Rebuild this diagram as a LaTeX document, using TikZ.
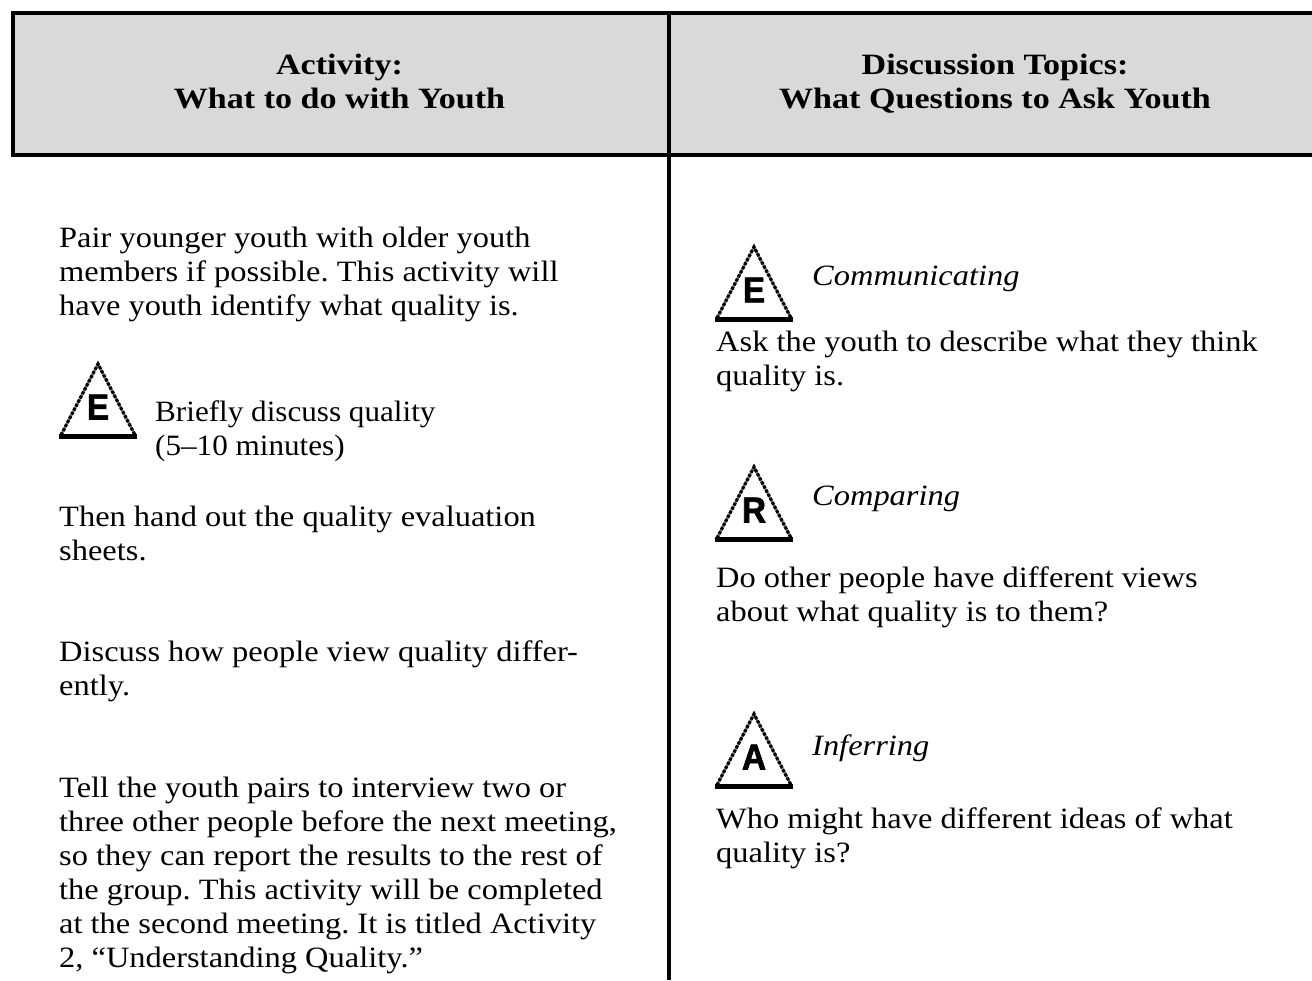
\documentclass[tikz,border=0pt]{standalone}
\usepackage{fontspec}
\setmainfont[FakeStretch=1.1,BoldFeatures={FakeStretch=1.155}]{Liberation Serif}
\newfontfamily\letterfont[FakeBold=2,FakeStretch=0.92]{Liberation Sans Bold}
\newcommand{\body}{\frenchspacing\fontsize{29.5}{34}\selectfont}
\newcommand{\triangleicon}[4]{% name, x centre, base y, letter
  \draw[line width=2.2pt,black!55] (#2-37,#3-1) -- (#2,#3-72) -- (#2+37,#3-1);
  \draw[line width=3.2pt,dash pattern=on 3pt off 1.6pt] (#2-37,#3-1) -- (#2,#3-72) -- (#2+37,#3-1);
  \draw[line width=5pt] (#2-39,#3) -- (#2+39,#3);
  \node[iconletter] (#1) at (#2,#3-29) {#4};
}
\tikzset{
  x=1pt,y=-1pt,
  bodytext/.style={anchor=base west,inner sep=0pt,align=left,font=\body},
  heading/.style={anchor=base,inner sep=0pt,align=center,font=\fontsize{29.5}{34}\selectfont\bfseries},
  topic/.style={anchor=base west,inner sep=0pt,font=\body\itshape},
  iconletter/.style={inner sep=0pt,font=\fontsize{36}{36}\selectfont\letterfont},
  rule/.style={line width=4pt,line cap=butt}
}
\begin{document}
\begin{tikzpicture}
\useasboundingbox (0,0) rectangle (1312,980);
\fill[fill=white] (0,0) rectangle (1312,980);
\fill[fill=black!15] (12,13) rectangle (1312,155);
\draw[rule] (1312,13) -- (11,13);
\draw[rule] (13,11) -- (13,157);
\draw[rule] (11,155) -- (1312,155);
\draw[rule] (668.5,13) -- (668.5,980);
\node[heading] (h1) at (339.5,108) {Activity:\\What to do with Youth};
\node[heading] (h2) at (995,108) {Discussion Topics:\\What Questions to Ask Youth};
\node[bodytext] (a1) at (59,315) {Pair younger youth with older youth\\members if possible. This activity will\\have youth identify what quality is.};
\triangleicon{ie}{98}{436}{E}
\node[bodytext,xscale=0.96] (a2) at (155,455) {Briefly discuss quality\\(5–10 minutes)};
\node[bodytext] (a3) at (59,560) {Then hand out the quality evaluation\\sheets.};
\node[bodytext] (a4) at (59,695) {Discuss how people view quality differ-\\ently.};
\node[bodytext] (a5) at (59,967) {Tell the youth pairs to interview two or\\three other people before the next meeting,\\so they can report the results to the rest of\\the group. This activity will be completed\\at the second meeting. It is titled Activity\\2, “Understanding Quality.”};
\triangleicon{re}{754}{319}{E}
\node[topic] (t1) at (812,285) {Communicating};
\node[bodytext] (b1) at (716,385) {Ask the youth to describe what they think\\quality is.};
\triangleicon{rr}{754}{539}{R}
\node[topic] (t2) at (812,505) {Comparing};
\node[bodytext] (b2) at (716,621) {Do other people have different views\\about what quality is to them?};
\triangleicon{ra}{754}{786}{A}
\node[topic] (t3) at (812,755) {Inferring};
\node[bodytext] (b3) at (716,862) {Who might have different ideas of what\\quality is?};
\end{tikzpicture}
\end{document}
